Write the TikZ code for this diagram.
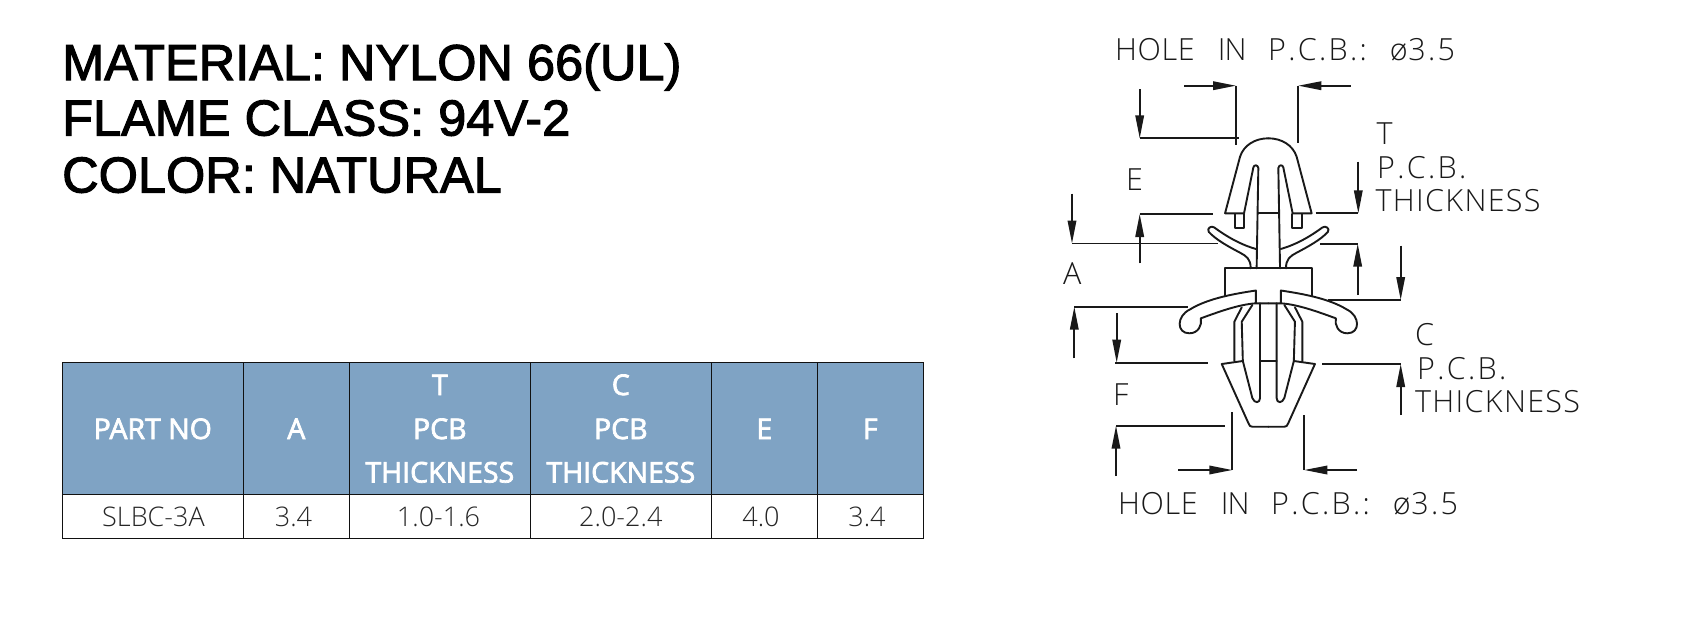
\documentclass[tikz,border=0pt]{standalone}
\usepackage{fontspec}
\usetikzlibrary{arrows.meta}
\newfontfamily\titlefont[FakeBold=2.2]{Liberation Sans}
\newfontfamily\headfont[FakeBold=2.5]{Open Sans}
\newfontfamily\bodyfont[UprightFont=* Light]{Open Sans}
\newfontfamily\cadfont[UprightFont=* Light,LetterSpace=2]{Open Sans}
\newfontfamily\cadwide[UprightFont=* Light,LetterSpace=4.3]{Open Sans}
\definecolor{headblue}{HTML}{7FA3C4}
\definecolor{rulecol}{HTML}{111111}
\newcommand{\pd}{\hspace{2.3pt}.\hspace{2.3pt}}
\newcommand{\gap}{\hspace{23pt}}
\tikzset{
  titletext/.style={anchor=base west,inner sep=0pt,font=\titlefont\fontsize{50.5}{50.5}\selectfont},
  headtext/.style={anchor=base,inner sep=0pt,text=white,font=\headfont\fontsize{28.5}{28.5}\selectfont},
  bodytext/.style={anchor=base,inner sep=0pt,text=black!85,font=\bodyfont\fontsize{27}{27}\selectfont},
  cadtext/.style={anchor=base west,inner sep=0pt,text=black!90,font=\cadfont\fontsize{30.5}{30.5}\selectfont},
  cadwidetext/.style={cadtext,font=\cadwide\fontsize{30.5}{30.5}\selectfont},
  cell/.style={draw=rulecol,line width=1.2pt},
  headcell/.style={cell,fill=headblue},
  part/.style={line width=1.9pt,line join=round,line cap=round,black!90},
  dimline/.style={line width=1.8pt,black!90},
  dimarrow/.style={dimline,-{Triangle[length=23pt,width=8.5pt]}},
}
\begin{document}
\begin{tikzpicture}[x=1pt,y=-1pt]
\useasboundingbox[fill=white] (0,0) rectangle (1705,622);
% title
\node[titletext] (t1) at (62,80) {MATERIAL: NYLON 66(UL)};
\node[titletext] (t2) at (62,135.5) {FLAME CLASS: 94V-2};
\node[titletext] (t3) at (62,192.5) {COLOR: NATURAL};
% table
\foreach \a/\b in {62.3/243.3,243.3/349.3,349.3/530.3,530.3/711.3,711.3/817.3,817.3/923.3}{
  \draw[headcell] (\a,362.7) rectangle (\b,494.3);
  \draw[cell] (\a,494.3) rectangle (\b,538.3);
}
\node[headtext] (h1) at (152.8,439) {PART NO};
\node[headtext] (h2) at (296.3,439) {A};
\node[headtext] (h3a) at (439.8,395) {T};
\node[headtext] (h3b) at (439.8,439) {PCB};
\node[headtext] (h3c) at (439.8,482.5) {THICKNESS};
\node[headtext] (h4a) at (620.8,395) {C};
\node[headtext] (h4b) at (620.8,439) {PCB};
\node[headtext] (h4c) at (620.8,482.5) {THICKNESS};
\node[headtext] (h5) at (764.3,439) {E};
\node[headtext] (h6) at (870.3,439) {F};
\node[bodytext] (b1) at (153.5,526.5) {SLBC-3A};
\node[bodytext] (b2) at (293.5,526.5) {3.4};
\node[bodytext] (b3) at (438.5,526.5) {1.0-1.6};
\node[bodytext] (b4) at (620.8,526.5) {2.0-2.4};
\node[bodytext] (b5) at (761,526.5) {4.0};
\node[bodytext] (b6) at (867,526.5) {3.4};
% clip, symmetric about its axis
\foreach \s in {1,-1}{
\begin{scope}[shift={(1268.33,0)},xscale=\s]
  % dome
  \draw[part] (0,138.3) .. controls (-13,138.3) and (-24.5,145) .. (-28.3,156.7) -- (-43.3,213.3) -- (-24.3,213.3)
     -- (-15,167.5) .. controls (-14.5,164.5) and (-10.5,164.5) .. (-10,168) -- (-11.7,268.3);
  \draw[part] (-10.5,213.3) -- (0,213.3);
  \draw[part] (-33.3,214) -- (-33.3,228.3) -- (-24,228.3) -- (-24,214);
  % upper wing
  \draw[part] (-12.3,249) .. controls (-28,244.5) and (-41,237) .. (-54,227.5) .. controls (-57,225) and (-62,228.5) .. (-59.5,232)
     .. controls (-52,240) and (-40,246.5) .. (-28.3,252.7) .. controls (-22,256) and (-17.5,259) .. (-17.7,268.3);
  % collar
  \draw[part] (0,268.3) -- (-43.3,268.3) -- (-43.3,296);
  % lower wing
  \draw[part] (-12.5,303.3) -- (-12.5,290.5) .. controls (-32,293.5) and (-60,298) .. (-78.5,309.5)
     .. controls (-92,316) and (-92,333.3) .. (-79,333.3) .. controls (-70,333.3) and (-66,325) .. (-67.5,318.3)
     .. controls (-50,312) and (-30,304.5) .. (-12.5,303.3) -- (0,303.3);
  % lower body
  \draw[part] (-8.3,303.3) -- (-8.3,398) .. controls (-8.3,403.5) and (-14,403.5) .. (-16,398)
     -- (-25.5,361) -- (-26.6,321.7) -- (-16,305);
  \draw[part] (-26.6,307.3) -- (-34,321.7) -- (-34,361);
  \draw[part] (-8.3,361) -- (0,361);
  \draw[part] (-25.5,361) -- (-46.6,364) -- (-20,423) .. controls (-19,426) and (-18,426.7) .. (-16,426.7) -- (0,426.7);
\end{scope}
}
% dimension: hole, top
\draw[dimarrow] (1184,85.7) -- (1236,85.7);
\draw[dimline] (1236,85.7) -- (1236,145);
\draw[dimarrow] (1350.7,85.7) -- (1298.3,85.7);
\draw[dimline] (1298.3,85.7) -- (1298.3,143.3);
% E
\draw[dimarrow] (1139.7,89) -- (1139.7,138.3);
\draw[dimline] (1139.7,138.3) -- (1239.3,138.3);
\draw[dimarrow] (1139.7,263.3) -- (1139.7,214);
\draw[dimline] (1139.7,214) -- (1212.7,214);
% A
\draw[dimarrow] (1072,193.5) -- (1072,243.5);
\draw[dimline] (1072,243.5) -- (1218,243.5);
\draw[dimarrow] (1074.3,358.3) -- (1074.3,306.7);
\draw[dimline] (1074.3,306.7) -- (1188.3,306.7);
% F
\draw[dimarrow] (1116.7,313.3) -- (1116.7,362.7);
\draw[dimline] (1115,362.7) -- (1208.3,362.7);
\draw[dimarrow] (1116,476) -- (1116,425.7);
\draw[dimline] (1116,425.7) -- (1225,425.7);
% hole, bottom
\draw[dimarrow] (1178.3,470) -- (1232.3,470);
\draw[dimline] (1232.3,470) -- (1232.3,411.7);
\draw[dimarrow] (1357,470) -- (1304.3,470);
\draw[dimline] (1304.3,470) -- (1304.3,415);
% T
\draw[dimarrow] (1358.3,161.7) -- (1358.3,213.3);
\draw[dimline] (1315.7,213.3) -- (1358.3,213.3);
\draw[dimarrow] (1357.7,295) -- (1357.7,243.7);
\draw[dimline] (1320,243.7) -- (1357.7,243.7);
% C
\draw[dimarrow] (1400.7,245.7) -- (1400.7,300);
\draw[dimline] (1328,300) -- (1400.7,300);
\draw[dimarrow] (1400.7,415) -- (1400.7,364);
\draw[dimline] (1322.3,364) -- (1400.7,364);
% drawing texts
\node[cadtext] (hole1) at (1115,60) {HOLE\gap I\kern-0.8pt N\hspace{21.5pt}P\pd C\pd B\pd:\gap ø3\pd 5};
\node[cadtext] (hole2) at (1118,514) {HOLE\gap I\kern-0.8pt N\hspace{21.5pt}P\pd C\pd B\pd:\gap ø3\pd 5};
\node[cadtext] (le) at (1126,190.7) {E};
\node[cadtext] (la) at (1063,284) {A};
\node[cadtext] (lf) at (1113,405.7) {F};
\node[cadtext] (lt) at (1376.5,144) {T};
\node[cadtext] (lt2) at (1377,178.7) {P\pd C\pd B\pd};
\node[cadwidetext] (lt3) at (1375.5,211.7) {THICKNESS};
\node[cadtext] (lc) at (1415,345.7) {C};
\node[cadtext] (lc2) at (1417,379.3) {P\pd C\pd B\pd};
\node[cadwidetext] (lc3) at (1415,412.3) {THICKNESS};
\end{tikzpicture}
\end{document}
